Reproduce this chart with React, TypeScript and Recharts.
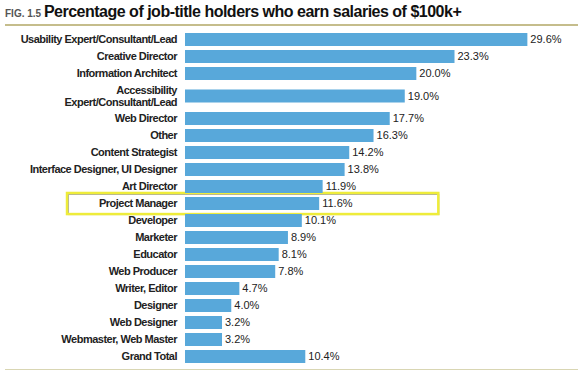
import { BarChart, Bar, XAxis, YAxis, LabelList, ReferenceArea } from 'recharts';

const jobTitles = [
  'Usability Expert/Consultant/Lead',
  'Creative Director',
  'Information Architect',
  'Accessibility Expert/Consultant/Lead',
  'Web Director',
  'Other',
  'Content Strategist',
  'Interface Designer, UI Designer',
  'Art Director',
  'Project Manager',
  'Developer',
  'Marketer',
  'Educator',
  'Web Producer',
  'Writer, Editor',
  'Designer',
  'Web Designer',
  'Webmaster, Web Master',
  'Grand Total',
];

const shares = [29.6, 23.3, 20.0, 19.0, 17.7, 16.3, 14.2, 13.8, 11.9, 11.6, 10.1, 8.9, 8.1, 7.8, 4.7, 4.0, 3.2, 3.2, 10.4];

// wrapped tick lines for the long label
const tickLines: Record<string, string[]> = {
  'Accessibility Expert/Consultant/Lead': ['Accessibility', 'Expert/Consultant/Lead'],
};

const highlighted = 'Project Manager';

// rows with a wrapped label get more room, like the original
const rowWeight = (name: string) => ((tickLines[name] || [name]).length > 1 ? 1.65 : 1);

let acc = 0;
const data = jobTitles.map((name, i) => {
  const w = rowWeight(name);
  const row = { name, share: shares[i], pos: acc + w / 2 };
  acc += w;
  return row;
});
const totalRows = acc;
const rowPos = data.map((d) => d.pos);
const nameAt = (pos: number) => data.find((d) => Math.abs(d.pos - pos) < 1e-6)?.name || '';
const hlPos = data.find((d) => d.name === highlighted)!.pos;

const FONT = '"Liberation Sans", Arial, Helvetica, sans-serif';

const JobTick = ({ x, y, payload }: any) => {
  const name = nameAt(payload.value);
  const lines = tickLines[name] || [name];
  const start = -((lines.length - 1) * 12.5) / 2;
  return (
    <text
      x={x}
      y={y}
      textAnchor="end"
      fontFamily={FONT}
      fontSize={11}
      fontWeight="bold"
      letterSpacing={-0.5}
      fill="#222"
    >
      {lines.map((line, i) => (
        <tspan key={i} x={x} y={y + start + i * 12.5} dy="0.36em">
          {line}
        </tspan>
      ))}
    </text>
  );
};

const HighlightBox = ({ x, y, width, height }: any) => (
  <g>
    <rect x={x + 1.5} y={y + 1.5} width={width - 1} height={height - 1} fill="none" stroke="#aaa" strokeWidth={1} />
    <rect x={x} y={y} width={width} height={height} fill="none" stroke="#eeec3a" strokeWidth={2.5} />
  </g>
);

export default function App() {
  return (
    <div style={{ position: 'absolute', left: 0, top: 0, width: 587, height: 374, background: '#fff' }}>
      <div style={{ position: 'absolute', left: 5, top: 3, fontFamily: FONT, whiteSpace: 'nowrap' }}>
        <span style={{ fontSize: 10, fontWeight: 'bold', color: '#555' }}>FIG. 1.5 </span>
        <span style={{ fontSize: 16, fontWeight: 'bold', color: '#111', letterSpacing: -0.5 }}>
          Percentage of job-title holders who earn salaries of $100k+
        </span>
      </div>
      <div style={{ position: 'absolute', left: 5, top: 24, width: 573, height: 2, background: '#c5bd8c' }} />
      <div style={{ position: 'absolute', left: 5, top: 369, width: 573, height: 1, background: '#d9d6b3' }} />
      <div style={{ position: 'absolute', left: 0, top: 30.5 }}>
        <BarChart
          width={587}
          height={334}
          data={data}
          layout="vertical"
          margin={{ top: 0, right: 55, left: 0, bottom: 0 }}
        >
          <XAxis type="number" domain={[0, 30]} hide />
          <YAxis
            type="number"
            dataKey="pos"
            domain={[0, totalRows]}
            ticks={rowPos}
            interval={0}
            width={185}
            axisLine={false}
            tickLine={false}
            tick={<JobTick />}
          />
          <ReferenceArea
            y1={hlPos - 0.62}
            y2={hlPos + 0.62}
            x1={-10.2}
            x2={21.9}
            ifOverflow="visible"
            shape={<HighlightBox />}
          />
          <Bar dataKey="share" fill="#58a8da" barSize={13} isAnimationActive={false}>
            <LabelList
              dataKey="share"
              position="right"
              offset={3}
              fontFamily={FONT}
              fontSize={11}
              fill="#222"
              formatter={(v: any) => `${Number(v).toFixed(1)}%`}
            />
          </Bar>
        </BarChart>
      </div>
    </div>
  );
}
